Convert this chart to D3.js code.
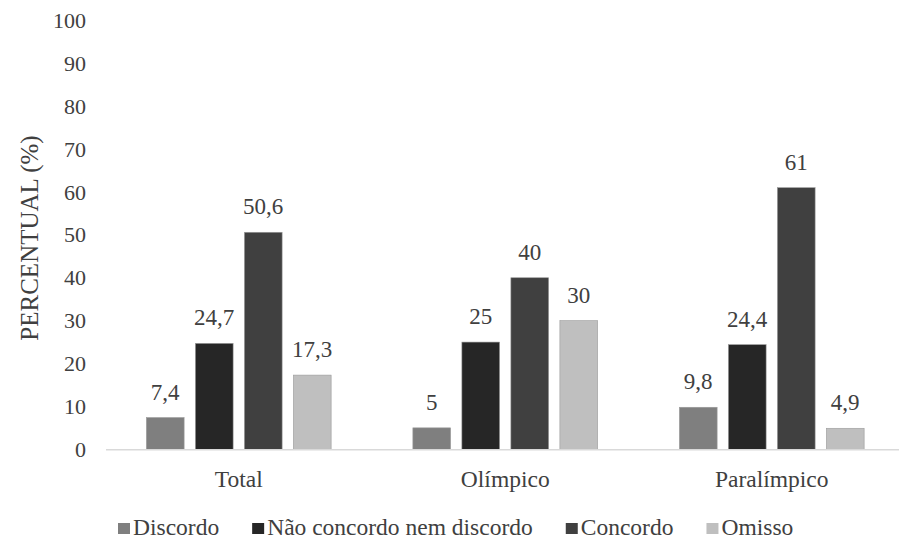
<!DOCTYPE html>
<html>
<head>
<meta charset="utf-8">
<script src="https://cdn.jsdelivr.net/npm/d3@7"></script>
<style>
  html, body { margin: 0; padding: 0; background: #fff; }
</style>
</head>
<body>
<svg id="chart" width="899" height="539" font-family="'Liberation Serif', 'Times New Roman', serif"></svg>
<script>
// Grupos e séries
const categories = ["Total", "Olímpico", "Paralímpico"];
const series = ["Discordo", "Não concordo nem discordo", "Concordo", "Omisso"];
const discordo = [7.4, 5, 9.8];
const naoConcordo = [24.7, 25, 24.4];
const concordo = [50.6, 40, 61];
const omisso = [17.3, 30, 4.9];
const yTicks = [0, 10, 20, 30, 40, 50, 60, 70, 80, 90, 100];
const colors = ["#7f7f7f", "#262626", "#404040", "#bfbfbf"];

const seriesValues = [discordo, naoConcordo, concordo, omisso];
const fmt = v => String(v).replace(".", ",");
const serif = "'Liberation Serif', 'Times New Roman', serif";

const rows = categories.map((c, i) => ({
  category: c,
  values: series.map((s, j) => ({ key: s, value: seriesValues[j][i], color: colors[j] }))
}));

const svg = d3.select("#chart");
const textColor = "#404040";

const x0 = d3.scaleBand()
  .domain(categories)
  .range([105.5, 905])
  .paddingInner(0.2645)
  .paddingOuter(0.13225);

const x1 = d3.scaleBand()
  .domain(series)
  .range([0, x0.bandwidth()])
  .paddingInner(0.23)
  .paddingOuter(0.115);

const y = d3.scaleLinear().domain([0, 100]).range([449.3, 20.4]);

// Eixo Y: apenas rótulos
const yAxis = svg.append("g")
  .attr("transform", "translate(86,0)")
  .call(d3.axisLeft(y).tickValues(yTicks).tickSize(0).tickPadding(0))
  .attr("font-family", serif);
yAxis.select(".domain").remove();
yAxis.selectAll("text")
  .attr("fill", textColor)
  .attr("font-size", 22);

// Título do eixo Y
svg.append("text")
  .attr("transform", `translate(38,238) rotate(-90)`)
  .attr("text-anchor", "middle")
  .attr("fill", textColor)
  .attr("font-size", 25)
  .text("PERCENTUAL (%)");

// Barras
const groups = svg.append("g").selectAll("g")
  .data(rows)
  .join("g")
  .attr("transform", d => `translate(${x0(d.category)},0)`);

groups.selectAll("rect")
  .data(d => d.values)
  .join("rect")
  .attr("x", d => x1(d.key))
  .attr("y", d => y(d.value))
  .attr("width", x1.bandwidth())
  .attr("height", d => y(0) - y(d.value))
  .attr("fill", d => d.color)
  .attr("stroke", "#9a9a9a")
  .attr("stroke-width", 0.6);

// Rótulos de valor
groups.selectAll("text.val")
  .data(d => d.values)
  .join("text")
  .attr("class", "val")
  .attr("x", d => x1(d.key) + x1.bandwidth() / 2)
  .attr("y", d => y(d.value) - 18)
  .attr("text-anchor", "middle")
  .attr("fill", textColor)
  .attr("font-size", 23)
  .text(d => fmt(d.value));

// Eixo X
const xAxis = svg.append("g")
  .attr("transform", `translate(0,${y(0)})`)
  .call(d3.axisBottom(x0).tickSize(0).tickPadding(0))
  .attr("font-family", serif);
xAxis.select(".domain")
  .attr("d", `M106,0.5H899`)
  .attr("stroke", "#d9d9d9")
  .attr("stroke-width", 1.5);
xAxis.selectAll("text")
  .attr("dy", null)
  .attr("y", 38)
  .attr("fill", textColor)
  .attr("font-size", 23.5);

// Legenda
const legend = svg.append("g").attr("transform", "translate(118,535)");
let lx = 0;
series.forEach((s, i) => {
  const item = legend.append("g").attr("transform", `translate(${lx},0)`);
  item.append("rect")
    .attr("x", 0).attr("y", -12)
    .attr("width", 12).attr("height", 11)
    .attr("fill", colors[i]);
  const t = item.append("text")
    .attr("x", 15)
    .attr("fill", textColor)
    .attr("font-size", 23.5)
    .text(s);
  lx += 15 + t.node().getComputedTextLength() + 33;
});

// Garante a fonte serifada em todos os textos
svg.selectAll("text").attr("font-family", serif).style("font-family", serif);
</script>
</body>
</html>
